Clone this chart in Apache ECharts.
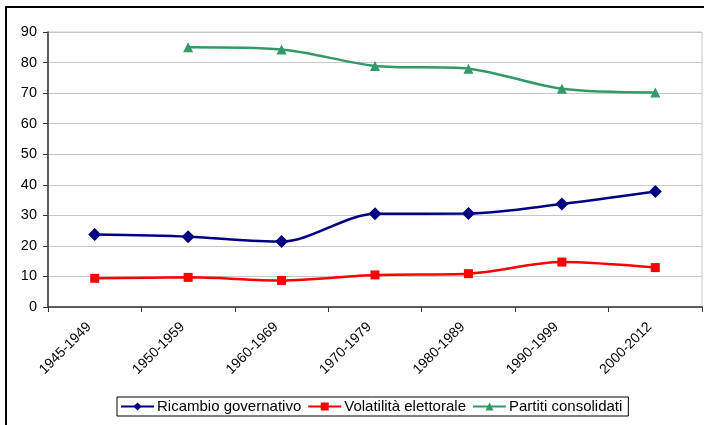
<!DOCTYPE html>
<html>
<head>
<meta charset="utf-8">
<script src="https://cdn.jsdelivr.net/npm/echarts@6/dist/echarts.min.js"></script>
<style>
  html, body { margin: 0; padding: 0; background: #fff; }
  #chart { width: 704px; height: 425px; }
</style>
</head>
<body>
<div id="chart"></div>
<script>
var categories = ['1945-1949', '1950-1959', '1960-1969', '1970-1979', '1980-1989', '1990-1999', '2000-2012']
var ricambio = [23.7, 23.0, 21.4, 30.5, 30.6, 33.7, 37.8]
var volatilita = [9.4, 9.7, 8.7, 10.5, 10.9, 14.7, 12.9]
var partiti = [null, 85.0, 84.3, 78.9, 78.0, 71.4, 70.2]

var font = 'Liberation Sans, Arial, sans-serif'
var myChart = echarts.init(document.getElementById('chart'))

var option = {
  animation: false,
  textStyle: { fontFamily: font },
  graphic: [{
    type: 'rect',
    shape: { x: 6, y: 7, width: 720, height: 440 },
    style: { fill: 'none', stroke: '#000', lineWidth: 2 },
    z: 100
  }],
  grid: {
    left: 48, right: 2, top: 32, bottom: 118,
    show: true, borderColor: '#c8c8c8', borderWidth: 1
  },
  legend: {
    top: 397,
    left: 117,
    itemWidth: 33,
    itemHeight: 10,
    itemGap: 6,
    padding: [2, 6, 2, 3],
    borderColor: '#000',
    borderWidth: 1,
    textStyle: { fontFamily: font, fontSize: 15, color: '#000', padding: [0, 0, 0, -2] },
    data: ['Ricambio governativo', 'Volatilità elettorale', 'Partiti consolidati']
  },
  xAxis: {
    type: 'category',
    data: categories,
    boundaryGap: true,
    axisLine: { lineStyle: { color: '#333', width: 1.5 } },
    axisTick: { show: true, length: 5, lineStyle: { color: '#333' } },
    axisLabel: { rotate: 45, interval: 0, fontSize: 14, color: '#000', margin: 12, padding: [0, 8, 0, 0] }
  },
  yAxis: {
    type: 'value',
    min: 0,
    max: 90,
    interval: 10,
    axisLine: { show: true, lineStyle: { color: '#333', width: 1.5 } },
    axisTick: { show: true, length: 5, lineStyle: { color: '#333' } },
    axisLabel: { fontSize: 14.5, color: '#000', margin: 11 },
    splitLine: { lineStyle: { color: '#c8c8c8' } }
  },
  series: [
    {
      name: 'Ricambio governativo',
      type: 'line',
      data: ricambio,
      smooth: 0.3,
      symbol: 'diamond',
      symbolSize: 13,
      color: '#000080',
      lineStyle: { width: 2.5 }
    },
    {
      name: 'Volatilità elettorale',
      type: 'line',
      data: volatilita,
      smooth: 0.3,
      symbol: 'rect',
      symbolSize: 9,
      color: '#ff0000',
      lineStyle: { width: 2.5 }
    },
    {
      name: 'Partiti consolidati',
      type: 'line',
      data: partiti,
      smooth: 0.3,
      symbol: 'triangle',
      symbolSize: 10,
      color: '#339966',
      lineStyle: { width: 2.5 }
    }
  ]
}

myChart.setOption(option)
</script>
</body>
</html>
